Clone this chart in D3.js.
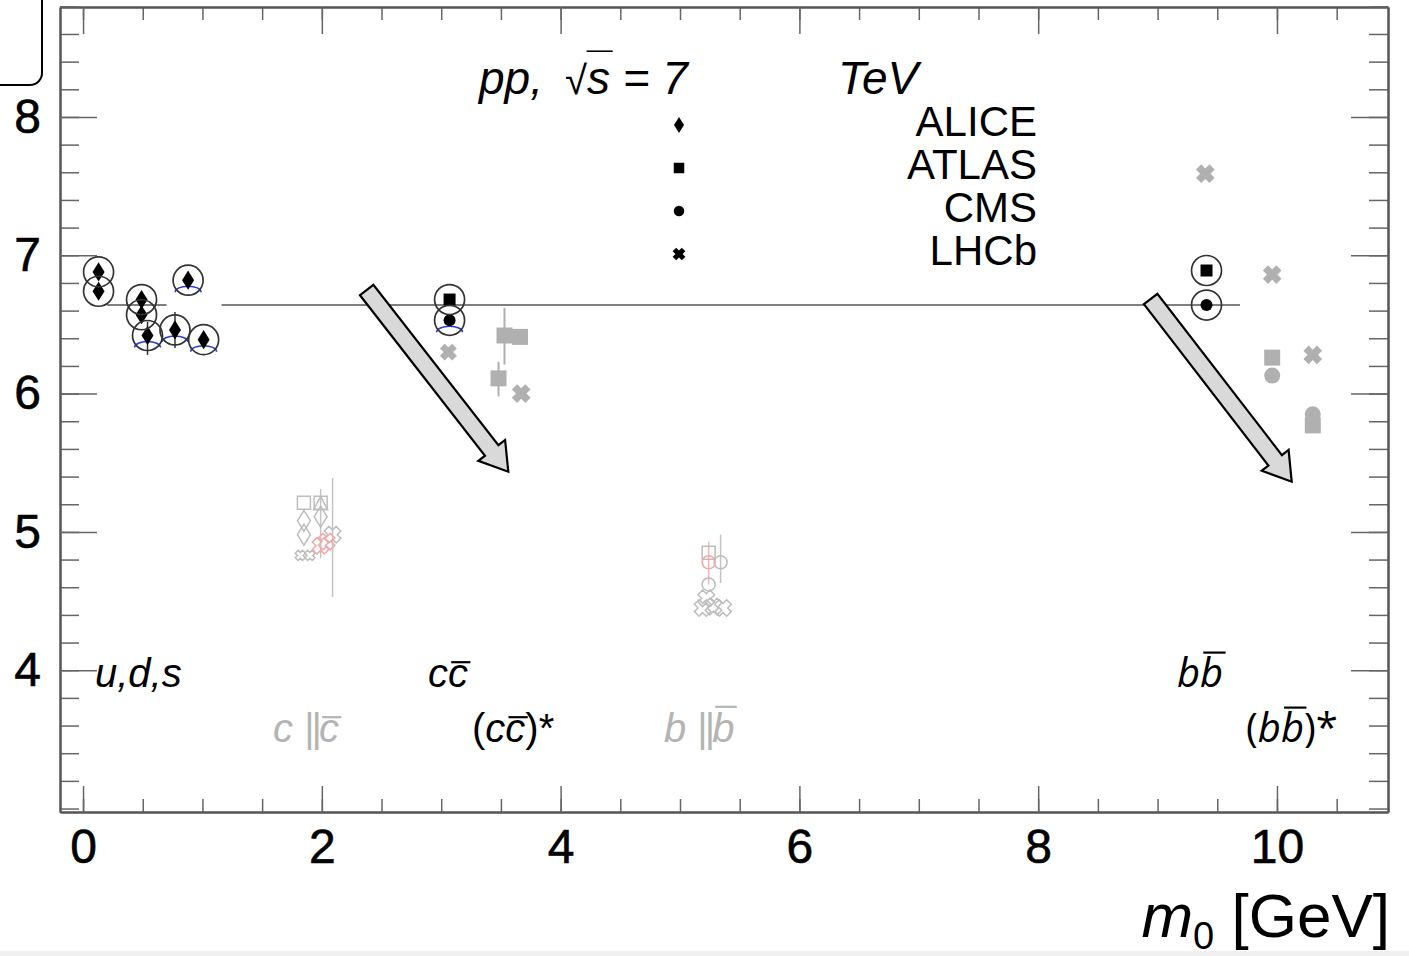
<!DOCTYPE html>
<html>
<head>
<meta charset="utf-8">
<script src="https://cdn.jsdelivr.net/npm/d3@7"></script>
<style>
  body { margin: 0; background: #fff; }
  svg { display: block; font-family: "Liberation Sans", Arial, sans-serif; }
</style>
</head>
<body>
<script>
// values
const xDomain = [-0.193, 10.93];
const yDomain = [2.975, 8.795];
const xMajor = [0, 2, 4, 6, 8, 10];
const xMinor = d3.range(0, 11, 0.5);
const yMajor = [4, 5, 6, 7, 8];
const yMinor = d3.range(3, 8.81, 0.2);

const fitT = 6.64;
const fitRanges = [[0.2, 0.7], [1.16, 9.69]];

// points used in the fit (black, circled)
const udsPoints = [
  { exp: 'ALICE', x: 0.13, y: 6.88 },
  { exp: 'ALICE', x: 0.13, y: 6.74 },
  { exp: 'ALICE', x: 0.49, y: 6.68 },
  { exp: 'ALICE', x: 0.49, y: 6.57 },
  { exp: 'ALICE', x: 0.54, y: 6.42, lo: 6.28, hi: 6.52, ell: true },
  { exp: 'ALICE', x: 0.77, y: 6.46, lo: 6.33, hi: 6.59, ell: true },
  { exp: 'ALICE', x: 0.88, y: 6.82, ell: true },
  { exp: 'ALICE', x: 1.01, y: 6.39, ell: true }
];
const ccPoints = [
  { exp: 'ATLAS', x: 3.07, y: 6.68 },
  { exp: 'CMS', x: 3.07, y: 6.53, ell: true }
];
const bbPoints = [
  { exp: 'ATLAS', x: 9.41, y: 6.89 },
  { exp: 'CMS', x: 9.41, y: 6.64 }
];

// points left out of the fit (grey, filled)
const ccSidePoints = [
  { exp: 'LHCb', x: 3.06, y: 6.30, small: true },
  { exp: 'ATLAS', x: 3.48, y: 6.11, lo: 5.98, hi: 6.23 },
  { exp: 'ATLAS', x: 3.53, y: 6.42, lo: 6.21, hi: 6.62 },
  { exp: 'ATLAS', x: 3.66, y: 6.41 },
  { exp: 'LHCb', x: 3.67, y: 6.00 }
];
const bbSidePoints = [
  { exp: 'LHCb', x: 9.40, y: 7.59 },
  { exp: 'LHCb', x: 9.96, y: 6.86 },
  { exp: 'ATLAS', x: 9.96, y: 6.26 },
  { exp: 'CMS', x: 9.96, y: 6.13 },
  { exp: 'LHCb', x: 10.30, y: 6.28 },
  { exp: 'CMS', x: 10.30, y: 5.85 },
  { exp: 'ATLAS', x: 10.30, y: 5.77 }
];

// open heavy flavour (faded, open markers)
const openGrey = [
  { exp: 'ATLAS', x: 1.85, y: 5.21 },
  { exp: 'ATLAS', x: 1.99, y: 5.21 },
  { exp: 'TRI', x: 1.99, y: 5.20, lo: 4.81, hi: 5.31 },
  { exp: 'ALICE', x: 1.85, y: 5.08 },
  { exp: 'ALICE', x: 1.85, y: 4.98 },
  { exp: 'ALICE', x: 1.99, y: 5.11 },
  { exp: 'LHCb', x: 2.09, y: 4.98, lo: 4.53, hi: 5.39 },
  { exp: 'LHCb', x: 1.82, y: 4.83, small: true },
  { exp: 'LHCb', x: 1.90, y: 4.83, small: true },
  { exp: 'ATLAS', x: 5.24, y: 4.85 },
  { exp: 'CMS', x: 5.34, y: 4.78, lo: 4.63, hi: 4.98 },
  { exp: 'CMS', x: 5.24, y: 4.62 },
  { exp: 'LHCb', x: 5.22, y: 4.52 },
  { exp: 'LHCb', x: 5.28, y: 4.46 },
  { exp: 'LHCb', x: 5.19, y: 4.45 },
  { exp: 'LHCb', x: 5.36, y: 4.45 }
];
const openRed = [
  { exp: 'LHCb', x: 1.99, y: 4.90 },
  { exp: 'LHCb', x: 2.04, y: 4.93 },
  { exp: 'CMS', x: 5.24, y: 4.78, lo: 4.62, hi: 4.93 }
];

const legendNames = ['ALICE', 'ATLAS', 'CMS', 'LHCb'];
// arrows: [x0, y0, x1, y1] in axis units
const arrows = [[2.376, 6.749, 3.562, 5.435], [8.942, 6.684, 10.123, 5.363]];

const W = 1409, H = 956;
const m = { left: 60, right: 1388, top: 7, bottom: 812 };

const svg = d3.select('body').append('svg')
  .attr('width', W).attr('height', H);

svg.append('rect').attr('width', W).attr('height', H).attr('fill', '#fff');
svg.append('rect').attr('x', 0).attr('y', 951).attr('width', W).attr('height', 5).attr('fill', '#f0f0f0');

// leftover rounded box in the corner
svg.append('path')
  .attr('d', 'M0,85H30A12,12 0 0 0 42,73V0')
  .attr('fill', 'none').attr('stroke', '#000').attr('stroke-width', 2);

const x = d3.scaleLinear().domain(xDomain).range([m.left, m.right]);
const y = d3.scaleLinear().domain(yDomain).range([m.bottom, m.top]);

// axes (ticks inward, ROOT style)
function axisStyle(g) {
  g.select('.domain').attr('stroke', '#555').attr('stroke-width', 2);
  g.selectAll('.tick line').attr('stroke', '#666').attr('stroke-width', 1.5);
}
const gxMinor = svg.append('g').attr('transform', `translate(0,${m.bottom})`)
  .call(d3.axisBottom(x).tickValues(xMinor).tickSize(-13).tickSizeOuter(0).tickFormat(''));
const gx = svg.append('g').attr('transform', `translate(0,${m.bottom})`)
  .call(d3.axisBottom(x).tickValues(xMajor).tickSize(-26).tickSizeOuter(0).tickPadding(17).tickFormat(d3.format('d')));
svg.append('g').attr('transform', `translate(0,${m.top})`)
  .call(d3.axisTop(x).tickValues(xMinor).tickSize(-13).tickSizeOuter(0).tickFormat('')).call(axisStyle);
svg.append('g').attr('transform', `translate(0,${m.top})`)
  .call(d3.axisTop(x).tickValues(xMajor).tickSize(-27).tickSizeOuter(0).tickFormat('')).call(axisStyle);
svg.append('g').attr('transform', `translate(${m.left},0)`)
  .call(d3.axisLeft(y).tickValues(yMinor).tickSize(-19).tickSizeOuter(0).tickFormat('')).call(axisStyle);
const gy = svg.append('g').attr('transform', `translate(${m.left},0)`)
  .call(d3.axisLeft(y).tickValues(yMajor).tickSize(-37).tickSizeOuter(0).tickPadding(19).tickFormat(d3.format('d')));
svg.append('g').attr('transform', `translate(${m.right},0)`)
  .call(d3.axisRight(y).tickValues(yMinor).tickSize(-19).tickSizeOuter(0).tickFormat('')).call(axisStyle);
svg.append('g').attr('transform', `translate(${m.right},0)`)
  .call(d3.axisRight(y).tickValues(yMajor).tickSize(-37).tickSizeOuter(0).tickFormat('')).call(axisStyle);
[gxMinor, gx, gy].forEach(g => g.call(axisStyle));
[gx, gy].forEach(g => g.selectAll('.tick text')
  .attr('font-family', '"Liberation Sans", Arial, sans-serif')
  .attr('font-size', 48).attr('fill', '#000')
  .attr('stroke', '#000').attr('stroke-width', 0.6));

// axis title
const title = svg.append('text').attr('x', 1390).attr('y', 937)
  .attr('text-anchor', 'end').attr('font-size', 62).attr('fill', '#000');
title.append('tspan').attr('font-style', 'italic').text('m');
title.append('tspan').attr('font-size', 38).attr('dy', 12).text('0');
title.append('tspan').attr('dy', -12).text(' [GeV]');

// marker shapes
function shape(exp, s) {
  if (exp === 'ALICE') return `M0,${-8 * s}L${5 * s},0L0,${8 * s}L${-5 * s},0Z`;
  if (exp === 'ATLAS') { const h = 5 * s; return `M${-h},${-h}H${h}V${h}H${-h}Z`; }
  if (exp === 'CMS') { const r = 5 * s; return `M${r},0A${r},${r} 0 1 1 ${-r},0A${r},${r} 0 1 1 ${r},0Z`; }
  if (exp === 'TRI') { const h = 6 * s; return `M0,${-h}L${h * 0.9},${h * 0.7}L${-h * 0.9},${h * 0.7}Z`; }
  // LHCb: thick saltire
  const L = 5.4 * s, w = 2.1 * s, k = Math.SQRT1_2;
  const pts = [[-w, -L], [w, -L], [w, -w], [L, -w], [L, w], [w, w], [w, L], [-w, L], [-w, w], [-L, w], [-L, -w], [-w, -w]];
  return 'M' + pts.map(([a, b]) => [((a - b) * k).toFixed(2), ((a + b) * k).toFixed(2)].join(',')).join('L') + 'Z';
}

function errorBars(data, color, width) {
  svg.append('g').selectAll('line')
    .data(data.filter(d => d.lo !== undefined))
    .join('line')
    .attr('x1', d => x(d.x)).attr('x2', d => x(d.x))
    .attr('y1', d => y(d.lo)).attr('y2', d => y(d.hi))
    .attr('stroke', color).attr('stroke-width', width);
}

function markers(data, opt) {
  svg.append('g').selectAll('path')
    .data(data)
    .join('path')
    .attr('transform', d => `translate(${x(d.x)},${y(d.y)})`)
    .attr('d', d => shape(d.exp, (d.small ? opt.smallScale : opt.scale) * (d.exp === 'LHCb' ? opt.xScale : 1)))
    .attr('fill', opt.fill)
    .attr('stroke', opt.stroke || 'none')
    .attr('stroke-width', opt.sw || 0);
}

// open heavy flavour points
errorBars(openGrey, '#c4c4c4', 1.5);
errorBars(openRed, '#f2b5b5', 1.5);
markers(openGrey, { scale: 1.3, smallScale: 0.8, xScale: 1.2, fill: 'none', stroke: '#bdbdbd', sw: 1.5 });
markers(openRed, { scale: 1.3, smallScale: 0.8, xScale: 1.2, fill: 'none', stroke: '#f0a8a8', sw: 1.5 });

// fit level
svg.append('g').selectAll('line')
  .data(fitRanges)
  .join('line')
  .attr('x1', d => x(d[0])).attr('x2', d => x(d[1]))
  .attr('y1', y(fitT)).attr('y2', y(fitT))
  .attr('stroke', '#555').attr('stroke-width', 1.5);

// excluded (grey filled)
const side = ccSidePoints.concat(bbSidePoints);
errorBars(side, '#b0b0b0', 2);
markers(side, { scale: 1.6, smallScale: 1.45, xScale: 1.1, fill: '#b0b0b0' });

// fit points
const fitPts = udsPoints.concat(ccPoints, bbPoints);
errorBars(fitPts, '#333', 1.5);
svg.append('g').selectAll('path')
  .data(fitPts.filter(d => d.ell))
  .join('path')
  .attr('d', d => {
    const cx = x(d.x), cy = y(d.y) + 12;
    return `M${cx - 13},${cy}A13,6 0 0 1 ${cx + 13},${cy}`;
  })
  .attr('fill', 'none').attr('stroke', '#2a3cd8').attr('stroke-width', 1.5);
markers(fitPts, { scale: 1.2, smallScale: 1.2, xScale: 1, fill: '#000' });
svg.append('g').selectAll('circle')
  .data(fitPts)
  .join('circle')
  .attr('cx', d => x(d.x)).attr('cy', d => y(d.y)).attr('r', 15)
  .attr('fill', 'none').attr('stroke', '#333').attr('stroke-width', 1.7);

// arrows
function arrowPath([x0, y0, x1, y1]) {
  const p0 = [x(x0), y(y0)], p1 = [x(x1), y(y1)];
  const dx = p1[0] - p0[0], dy = p1[1] - p0[1], len = Math.hypot(dx, dy);
  const u = [dx / len, dy / len], n = [-u[1], u[0]];
  const hw = 8.5, hh = 17, hl = 27;
  const b = [p1[0] - u[0] * hl, p1[1] - u[1] * hl];
  const pt = (p, s) => [p[0] + n[0] * s, p[1] + n[1] * s];
  const pts = [pt(p0, hw), pt(b, hw), pt(b, hh), p1, pt(b, -hh), pt(b, -hw), pt(p0, -hw)];
  return 'M' + pts.map(p => p.map(v => v.toFixed(1)).join(',')).join('L') + 'Z';
}
svg.append('g').selectAll('path')
  .data(arrows)
  .join('path')
  .attr('d', arrowPath)
  .attr('fill', '#d9d9d9').attr('stroke', '#000').attr('stroke-width', 2.2)
  .attr('stroke-linejoin', 'miter');

// text with hand-placed overlines (bar over antiquarks, root sign)
function richText(px, py, size, color, family, parts) {
  const t = svg.append('text').attr('x', px).attr('y', py)
    .attr('font-size', size).attr('fill', color)
    .attr('font-family', family);
  parts.forEach(p => {
    const s = t.append('tspan').text(p.t);
    if (p.i) s.attr('font-style', 'italic');
    if (p.fs) s.attr('font-size', p.fs);
    if (p.dx) s.attr('dx', p.dx);
    if (p.ls !== undefined) s.attr('letter-spacing', p.ls);
  });
  let idx = 0;
  const node = t.node();
  parts.forEach(p => {
    const n = p.t.length;
    if (p.o) {
      const x0 = node.getStartPositionOfChar(idx).x + (p.i ? size * 0.08 : 0) + (p.ox || 0);
      const x1 = node.getEndPositionOfChar(idx + n - 1).x + (p.i ? size * 0.06 : 0);
      svg.append('line')
        .attr('x1', x0).attr('x2', x1)
        .attr('y1', py - size * p.o).attr('y2', py - size * p.o)
        .attr('stroke', color).attr('stroke-width', p.sw || 2.2);
    }
    idx += n;
  });
  return t;
}

// legend
const helvFont = '"Liberation Sans", Arial, sans-serif';
const openFont = '"Open Sans", "DejaVu Sans", sans-serif';
richText(479, 94, 46, '#000', helvFont, [
  { t: 'pp,', i: true },
  { t: '√', fs: 40, dx: 22 },
  { t: 's', i: true, o: 0.93, ox: -4, sw: 1.6 },
  { t: ' = 7', i: true }
]);
svg.append('text').attr('x', 838).attr('y', 94)
  .attr('font-size', 46).attr('font-style', 'italic').text('TeV');

const legendY = d3.scalePoint().domain(legendNames).range([136, 265]);
svg.append('g').selectAll('text')
  .data(legendNames)
  .join('text')
  .attr('x', 1037).attr('y', d => legendY(d))
  .attr('text-anchor', 'end').attr('font-size', 42).text(d => d);
svg.append('g').selectAll('path')
  .data(legendNames)
  .join('path')
  .attr('transform', d => `translate(679,${legendY(d) - 11})`)
  .attr('d', d => shape(d, d === 'ALICE' ? 1.0 : d === 'LHCb' ? 1.2 : 1.05))
  .attr('fill', '#000');

// category labels
richText(95, 687, 40, '#000', helvFont, [{ t: 'u,d,s', i: true }]);
richText(428, 687, 40, '#000', helvFont, [{ t: 'c', i: true }, { t: 'c', i: true, o: 0.62 }]);
richText(273, 742, 40, '#b4b4b4', helvFont, [{ t: 'c ', i: true }, { t: '||', ls: -3 }, { t: 'c', i: true, o: 0.62 }]);
richText(472, 742, 40, '#000', helvFont, [{ t: '(' }, { t: 'c', i: true }, { t: 'c', i: true, o: 0.62 }, { t: ')*' }]);
richText(664, 742, 40, '#b4b4b4', helvFont, [{ t: 'b ', i: true }, { t: '||', ls: -3 }, { t: 'b', i: true, o: 0.88 }]);
richText(1177, 687, 40, '#000', openFont, [{ t: 'b', i: true }, { t: 'b', i: true, o: 0.86 }]);
richText(1246, 742, 40, '#000', openFont, [{ t: '(' }, { t: 'b', i: true }, { t: 'b', i: true, o: 0.86 }, { t: ')*' }]);
</script>
</body>
</html>
